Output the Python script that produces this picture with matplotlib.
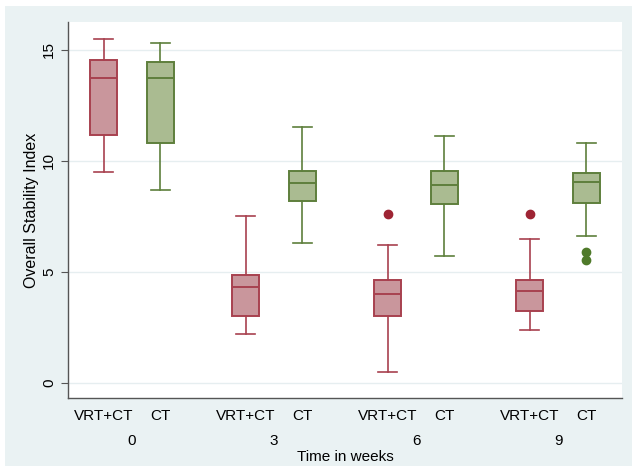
import matplotlib
matplotlib.use("Agg")
import matplotlib.pyplot as plt
from matplotlib.patches import Rectangle
from matplotlib.transforms import blended_transform_factory

plt.rcParams['font.family'] = ['Liberation Sans', 'DejaVu Sans']

# ---- data ----
weeks = ["0", "3", "6", "9"]
groups = ["VRT+CT", "CT"]
# whislo, q1, median, q3, whishi
vrt_low = [9.5, 2.2, 0.5, 2.4]
vrt_q1 = [11.15, 3.0, 3.02, 3.23]
vrt_med = [13.75, 4.3, 4.0, 4.15]
vrt_q3 = [14.55, 4.88, 4.65, 4.65]
vrt_high = [15.5, 7.5, 6.2, 6.5]
vrt_out = [[], [], [7.6], [7.6]]

ct_low = [8.7, 6.3, 5.7, 6.6]
ct_q1 = [10.8, 8.2, 8.05, 8.12]
ct_med = [13.75, 9.0, 8.9, 9.05]
ct_q3 = [14.45, 9.55, 9.55, 9.45]
ct_high = [15.3, 11.5, 11.1, 10.8]
ct_out = [[], [], [], [5.9, 5.55]]

yticks = [0, 5, 10, 15]

# ---- styling ----
bg = '#EAF2F3'
red_fill, red_edge, red_dot = '#C9969C', '#A8414F', '#9E2434'
grn_fill, grn_edge, grn_dot = '#AABB91', '#5E7F3C', '#4F7A2A'

W, H = 632, 466
fig = plt.figure(figsize=(W / 100, H / 100), dpi=100, facecolor='white')
fig.patches.append(Rectangle((5 / W, 0), 1, 1 - 6 / H, transform=fig.transFigure,
                             facecolor=bg, edgecolor='none', zorder=-10))
ax = fig.add_axes([68 / W, 1 - 398 / H, (622 - 68) / W, (398 - 22) / H])
ax.set_facecolor('white')

off = 0.2
bw = 0.19
capw = 0.135


def stats(lo, q1, med, q3, hi, out):
    return [dict(whislo=a, q1=b, med=c, q3=d, whishi=e, fliers=f)
            for a, b, c, d, e, f in zip(lo, q1, med, q3, hi, out)]


for st, sign, fill, edge, dot in [
        (stats(vrt_low, vrt_q1, vrt_med, vrt_q3, vrt_high, vrt_out), -1, red_fill, red_edge, red_dot),
        (stats(ct_low, ct_q1, ct_med, ct_q3, ct_high, ct_out), 1, grn_fill, grn_edge, grn_dot)]:
    pos = [i + sign * off for i in range(len(weeks))]
    ax.bxp(st, positions=pos, widths=bw, capwidths=capw, patch_artist=True,
           showfliers=True, manage_ticks=False,
           boxprops=dict(facecolor=fill, edgecolor=edge, linewidth=1.4),
           medianprops=dict(color=edge, linewidth=1.4),
           whiskerprops=dict(color=edge, linewidth=1.2),
           capprops=dict(color=edge, linewidth=1.2),
           flierprops=dict(marker='o', markerfacecolor=dot, markeredgecolor=dot,
                           markersize=6))

ax.set_xlim(-0.45, len(weeks) - 1 + 0.45)
ax.set_ylim(-0.68, 16.25)
ax.set_yticks(yticks)
ax.set_yticklabels([str(t) for t in yticks], rotation=90, va='center', fontsize=11)
ax.yaxis.grid(True, color='#E6EEF0', linewidth=1.0)
ax.set_axisbelow(True)

xt = []
xl = []
for i in range(len(weeks)):
    for j, g in enumerate(groups):
        xt.append(i + (-off if j == 0 else off))
        xl.append(g)
ax.set_xticks(xt)
ax.set_xticklabels(xl, fontsize=11)
ax.tick_params(axis='x', length=0, pad=8)
ax.tick_params(axis='y', length=5, width=0.8, color='#555555', pad=3.5)

trans = blended_transform_factory(ax.transData, ax.transAxes)
for i, w in enumerate(weeks):
    ax.text(i, -43 / 376, w, transform=trans, ha='center', va='center', fontsize=11)

ax.set_xlabel("Time in weeks", fontsize=11)
ax.xaxis.set_label_coords(0.5, -59 / 376)
ax.xaxis.label.set_va('center')
ax.set_ylabel("Overall Stability Index", fontsize=11.5)
ax.yaxis.set_label_coords(-36 / 554, 0.5)
ax.yaxis.label.set_va('center')

for s in ['top', 'right']:
    ax.spines[s].set_visible(False)
for s in ['left', 'bottom']:
    ax.spines[s].set_color('#555555')
    ax.spines[s].set_linewidth(1.0)

fig.savefig('out.png', dpi=100, facecolor=fig.get_facecolor())
